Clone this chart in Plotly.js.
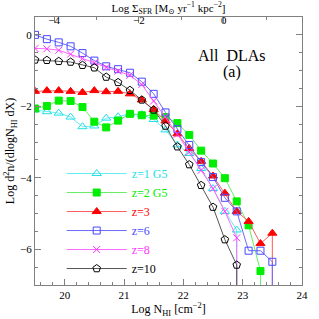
<!DOCTYPE html>
<html>
<head>
<meta charset="utf-8">
<script src="https://cdn.plot.ly/plotly-3.0.1.min.js"></script>
<style>html,body{margin:0;padding:0;background:#fff;}#chart{width:319px;height:319px;}</style>
</head>
<body>
<div id="chart"></div>
<script>
// log N_HI bin centres
const logNHI = [19.5,19.7,19.9,20.1,20.3,20.5,20.7,20.9,21.1,21.3,21.5,21.7,21.9,22.1,22.3,22.5,22.7,22.9,23.1,23.3,23.5];
// series: log d^2n/(dlogN dX); the final very low value stands for an empty bin (log 0)
const z1G5 = [-2.10,-2.15,-2.19,-2.30,-2.57,-2.55,-2.33,-2.29,-2.21,-2.23,-2.37,-2.66,-3.08,-3.32,-3.74,-4.30,-4.94,-5.46,-30];
const z2G5 = [-2.06,-1.99,-1.84,-1.85,-2.02,-2.43,-2.59,-2.40,-2.21,-2.25,-2.26,-2.30,-2.47,-2.80,-3.24,-3.60,-4.01,-4.66,-5.33,-6.61,-30];
const z3   = [-1.58,-1.56,-1.56,-1.58,-1.61,-1.56,-1.59,-1.58,-1.65,-1.82,-2.09,-2.41,-2.77,-3.18,-3.54,-3.95,-4.43,-4.94,-5.22,-5.84,-5.55,-30];
const z6   = [0.00,-0.12,-0.21,-0.32,-0.51,-0.72,-0.88,-0.96,-1.06,-1.31,-1.65,-2.17,-2.64,-3.08,-3.56,-3.98,-4.56,-4.94,-6.04,-6.04,-6.35,-30];
const z8   = [-0.38,-0.39,-0.43,-0.54,-0.66,-0.78,-0.91,-1.01,-1.13,-1.39,-1.85,-2.29,-2.78,-3.28,-3.79,-4.30,-4.94,-5.68,-30];
const z10  = [-0.70,-0.71,-0.74,-0.76,-0.85,-0.92,-1.18,-1.33,-1.55,-1.82,-2.10,-2.55,-3.13,-3.63,-4.21,-4.82,-5.73,-6.44,-30];
const seriesNames = ['z=1 G5','z=2 G5','z=3','z=6','z=8','z=10'];
const seriesValues = [z1G5, z2G5, z3, z6, z8, z10];
// top-axis conversion (Kennicutt-Schmidt): log Sigma_SFR = slope * (log N_HI - zeroPoint)
const ksSlope = 1.4, ksZero = 22.68;
const xRange = [19.5, 24];
const yRange = [-7, 0.5];

const markerColors = ['#22e0e8','#00ee00','#ff0000','#4848ff','#ff33ff','#000000'];
const lineColors   = ['#66eef0','#66ee66','#ff5a5a','#6a6aff','#ff66ff','#555555'];
const symbols = ['triangle-up-open','square','triangle-up','square-open','x-thin-open','pentagon-open'];
const sizes = [8,7,8,7,7,8];

function xsFor(vals){
  // each series is sampled on the bin grid; the trailing empty bin repeats the last x
  const xs = logNHI.slice(0, vals.length - 1);
  xs.push(xs[xs.length - 1]);
  return xs;
}

const serif = 'Liberation Serif, DejaVu Serif, serif';
const traces = seriesValues.map((vals, i) => ({
  type: 'scatter', mode: 'lines+markers',
  x: xsFor(vals), y: vals,
  name: '<span style="color:' + markerColors[i] + '">' + seriesNames[i] + '</span>',
  line: {color: lineColors[i], width: 1},
  marker: {color: markerColors[i], symbol: symbols[i], size: sizes[i],
           line: {color: markerColors[i], width: 1}},
  xaxis: 'x', yaxis: 'y'
}));
// empty traces so that the top (Sigma_SFR) and right axes are drawn
traces.push({type: 'scatter', x: [], y: [], xaxis: 'x2', yaxis: 'y', showlegend: false, hoverinfo: 'skip'});
traces.push({type: 'scatter', x: [], y: [], xaxis: 'x', yaxis: 'y2', showlegend: false, hoverinfo: 'skip'});

const axisGrey = '#808080';
const common = {
  showline: true, linecolor: axisGrey, linewidth: 1,
  ticks: 'inside', tickcolor: axisGrey, ticklen: 6, tickwidth: 1,
  showgrid: false, zeroline: false, automargin: false,
  tickfont: {family: serif, size: 11, color: '#000'}
};

const layout = {
  width: 319, height: 319,
  margin: {l: 35, r: 17, t: 17, b: 34},
  paper_bgcolor: '#fff', plot_bgcolor: '#fff',
  font: {family: serif, color: '#000'},
  showlegend: true,
  legend: {x: 0.10, y: 0.47, xanchor: 'left', yanchor: 'top', itemwidth: 60,
           bgcolor: 'rgba(0,0,0,0)', font: {family: serif, size: 12}},
  xaxis: Object.assign({}, common, {
    range: xRange, tick0: 20, dtick: 1,
    minor: {dtick: 0.2, ticks: 'inside', ticklen: 3, tickcolor: axisGrey},
    title: {text: 'Log N<sub>HI</sub> [cm<sup>−2</sup>]', font: {family: serif, size: 12}, standoff: 4}
  }),
  xaxis2: Object.assign({}, common, {
    overlaying: 'x', side: 'top', anchor: 'y',
    range: xRange.map(v => ksSlope * (v - ksZero)), tick0: 0, dtick: 2,
    ticklabelposition: 'inside', ticklabelstandoff: -7,
    minor: {dtick: 1, ticks: 'inside', ticklen: 3, tickcolor: axisGrey},
    title: {text: 'Log Σ<sub>SFR</sub> [M<sub>⊙</sub> yr<sup>−1</sup> kpc<sup>−2</sup>]', font: {family: serif, size: 11}, standoff: 5}
  }),
  yaxis: Object.assign({}, common, {
    range: yRange, tick0: 0, dtick: 2,
    minor: {dtick: 0.5, ticks: 'inside', ticklen: 3, tickcolor: axisGrey},
    title: {text: 'Log d<sup>2</sup>n/(dlogN<sub>HI</sub> dX)', font: {family: serif, size: 12}, standoff: 2}
  }),
  yaxis2: Object.assign({}, common, {
    overlaying: 'y', side: 'right', anchor: 'x', showticklabels: false,
    range: yRange, tick0: 0, dtick: 2,
    minor: {dtick: 0.5, ticks: 'inside', ticklen: 3, tickcolor: axisGrey}
  }),
  annotations: [
    {text: 'All  DLAs', xref: 'paper', yref: 'paper', x: 0.738, y: 0.858, xanchor: 'center', yanchor: 'middle', showarrow: false,
     font: {family: serif, size: 16, color: '#000'}},
    {text: '(a)', xref: 'paper', yref: 'paper', x: 0.738, y: 0.795, xanchor: 'center', yanchor: 'middle', showarrow: false,
     font: {family: serif, size: 16, color: '#000'}}
  ]
};

Plotly.newPlot('chart', traces, layout, {staticPlot: true, displayModeBar: false});
</script>
</body>
</html>
